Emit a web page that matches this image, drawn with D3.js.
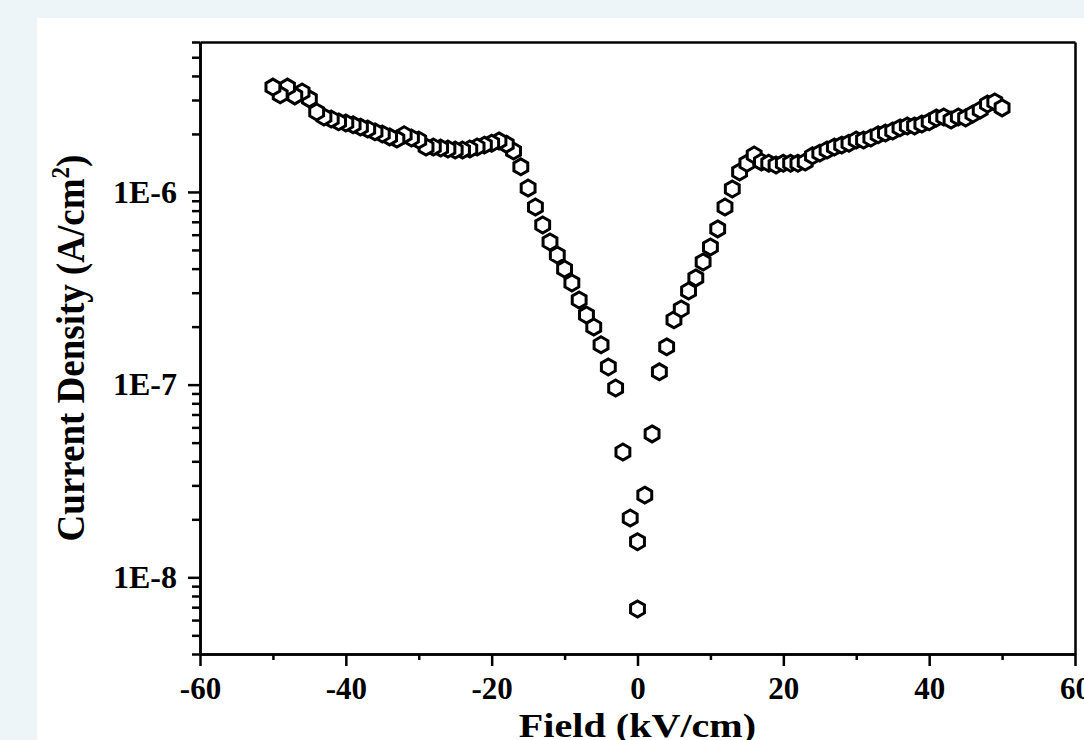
<!DOCTYPE html>
<html>
<head>
<meta charset="utf-8">
<script src="https://cdn.jsdelivr.net/npm/d3@7"></script>
<style>
  html, body { margin: 0; padding: 0; background: #edf5f9; }
  svg { display: block; }
  text { font-family: "Liberation Serif", "Times New Roman", serif; font-weight: bold; fill: #000; }
</style>
</head>
<body>
<div id="chart"></div>
<script>
// Sweep from 0 towards -50 kV/cm
var fieldNeg = [0, -1, -2, -3, -4, -5, -6, -7, -8, -9, -10, -11, -12, -13, -14,
    -15, -16, -17, -18, -19, -20, -21, -22, -23, -24, -25, -26, -27, -28, -29,
    -30, -31, -32, -33, -34, -35, -36, -37, -38, -39, -40, -41, -42, -43, -44,
    -45, -46, -47, -48, -49, -50];
var currentNeg = [6.85e-9, 2.03e-8, 4.47e-8, 9.6e-8, 1.235e-7, 1.61e-7, 1.99e-7,
    2.30e-7, 2.75e-7, 3.37e-7, 3.98e-7, 4.71e-7, 5.50e-7, 6.74e-7, 8.35e-7,
    1.048e-6, 1.35e-6, 1.63e-6, 1.77e-6, 1.84e-6, 1.79e-6, 1.75e-6, 1.71e-6,
    1.67e-6, 1.65e-6, 1.65e-6, 1.67e-6, 1.69e-6, 1.71e-6, 1.71e-6, 1.86e-6,
    1.905e-6, 1.98e-6, 1.88e-6, 1.93e-6, 2.00e-6, 2.05e-6, 2.12e-6, 2.17e-6,
    2.23e-6, 2.28e-6, 2.31e-6, 2.39e-6, 2.45e-6, 2.60e-6, 3.04e-6, 3.30e-6,
    3.15e-6, 3.50e-6, 3.19e-6, 3.50e-6];

// Sweep from 0 towards +50 kV/cm
var fieldPos = [0, 1, 2, 3, 4, 5, 6, 7, 8, 9, 10, 11, 12, 13, 14, 15, 16, 17,
    18, 19, 20, 21, 22, 23, 24, 25, 26, 27, 28, 29, 30, 31, 32, 33, 34, 35, 36,
    37, 38, 39, 40, 41, 42, 43, 44, 45, 46, 47, 48, 49, 50];
var currentPos = [1.53e-8, 2.67e-8, 5.55e-8, 1.165e-7, 1.57e-7, 2.17e-7, 2.47e-7,
    3.06e-7, 3.58e-7, 4.33e-7, 5.18e-7, 6.43e-7, 8.35e-7, 1.036e-6, 1.27e-6,
    1.41e-6, 1.555e-6, 1.43e-6, 1.41e-6, 1.38e-6, 1.41e-6, 1.41e-6, 1.41e-6,
    1.43e-6, 1.54e-6, 1.59e-6, 1.65e-6, 1.71e-6, 1.75e-6, 1.79e-6, 1.86e-6,
    1.86e-6, 1.905e-6, 1.98e-6, 2.02e-6, 2.07e-6, 2.15e-6, 2.20e-6, 2.20e-6,
    2.25e-6, 2.31e-6, 2.42e-6, 2.45e-6, 2.36e-6, 2.45e-6, 2.42e-6, 2.54e-6,
    2.66e-6, 2.86e-6, 2.93e-6, 2.73e-6];

var xTicks = [-60, -40, -20, 0, 20, 40, 60];
var xMinorTicks = [-50, -30, -10, 10, 30, 50];
var yTicks = [1e-8, 1e-7, 1e-6];
var yTickLabels = ['1E-8', '1E-7', '1E-6'];

var width = 1084,
    height = 740,
    margin = {top: 42, right: 9, bottom: 86, left: 200};

var svg = d3.select('#chart').append('svg')
    .attr('width', width)
    .attr('height', height);

svg.append('rect')
    .attr('width', width).attr('height', height)
    .attr('fill', '#edf5f9');
svg.append('rect')
    .attr('x', 37).attr('y', 18)
    .attr('width', width - 37).attr('height', height - 18)
    .attr('fill', '#ffffff');

var x = d3.scaleLinear()
    .domain([-60, 60])
    .range([margin.left, width - margin.right]);
var y = d3.scaleLog()
    .domain([4e-9, 6e-6])
    .range([height - margin.bottom, margin.top]);

// minor log ticks = every tick the scale gives that is not a decade
var yMinorTicks = y.ticks().filter(function(v) {
  return yTicks.indexOf(v) < 0 && Math.abs(Math.log10(v) % 1) > 1e-6;
});

function styleAxis(size) {
  return function(g) {
    g.selectAll('path, line')
        .attr('stroke', '#000')
        .attr('stroke-width', 2.5);
    g.selectAll('text')
        .attr('fill', '#000')
        .style('font-size', size + 'px');
  };
}

// frame (top and right)
svg.append('g')
    .attr('transform', 'translate(0,' + margin.top + ')')
    .call(d3.axisTop(x).tickValues([]).tickSizeOuter(0))
    .call(styleAxis(31));
svg.append('g')
    .attr('transform', 'translate(' + (width - margin.right) + ',0)')
    .call(d3.axisRight(y).tickValues([]).tickSizeOuter(0))
    .call(styleAxis(31));

// x axis
var xAxisY = height - margin.bottom;
svg.append('g')
    .attr('transform', 'translate(0,' + xAxisY + ')')
    .call(d3.axisBottom(x).tickValues(xMinorTicks).tickSize(6)
        .tickFormat('').tickSizeOuter(0))
    .call(styleAxis(31));
svg.append('g')
    .attr('transform', 'translate(0,' + xAxisY + ')')
    .call(d3.axisBottom(x).tickValues(xTicks).tickSize(12).tickPadding(11)
        .tickFormat(function(d) { return String(d); }).tickSizeOuter(0))
    .call(styleAxis(31));

// y axis
svg.append('g')
    .attr('transform', 'translate(' + margin.left + ',0)')
    .call(d3.axisLeft(y).tickValues(yMinorTicks).tickSize(8)
        .tickFormat('').tickSizeOuter(0))
    .call(styleAxis(32));
svg.append('g')
    .attr('transform', 'translate(' + margin.left + ',0)')
    .call(d3.axisLeft(y).tickValues(yTicks).tickSize(12).tickPadding(11)
        .tickFormat(function(d, i) { return yTickLabels[i]; })
        .tickSizeOuter(0))
    .call(styleAxis(32));

// axis titles (the original figure is a little wider than tall, hence the stretch)
svg.append('text')
    .attr('transform', 'translate(' + x(0) + ',737) scale(1.18,1)')
    .attr('text-anchor', 'middle')
    .style('font-size', '34px')
    .text('Field (kV/cm)');

var yTitle = svg.append('text')
    .attr('transform', 'translate(84,' + ((margin.top + height - margin.bottom) / 2) +
        ') rotate(-90) scale(1,1.08)')
    .attr('text-anchor', 'middle')
    .style('font-size', '37px');
yTitle.append('tspan').text('Current Density (A/cm');
yTitle.append('tspan').attr('dy', '-0.6em').style('font-size', '23px').text('2');
yTitle.append('tspan').attr('dy', '0.37em').text(')');

// hexagon marker, pointy top
var hexR = 8;
var hexPath = 'M' + d3.range(6).map(function(k) {
  var a = (k * 60 - 90) * Math.PI / 180;
  return [hexR * Math.cos(a), hexR * Math.sin(a)].join(',');
}).join('L') + 'Z';

function drawSweep(fields, currents) {
  svg.append('g').selectAll('path')
      .data(d3.range(fields.length))
    .enter().append('path')
      .attr('d', hexPath)
      .attr('transform', function(i) {
        return 'translate(' + x(fields[i]) + ',' + y(currents[i]) + ')';
      })
      .attr('fill', '#fff')
      .attr('stroke', '#000')
      .attr('stroke-width', 3)
      .attr('stroke-linejoin', 'miter');
}

drawSweep(fieldNeg, currentNeg);
drawSweep(fieldPos, currentPos);
</script>
</body>
</html>
